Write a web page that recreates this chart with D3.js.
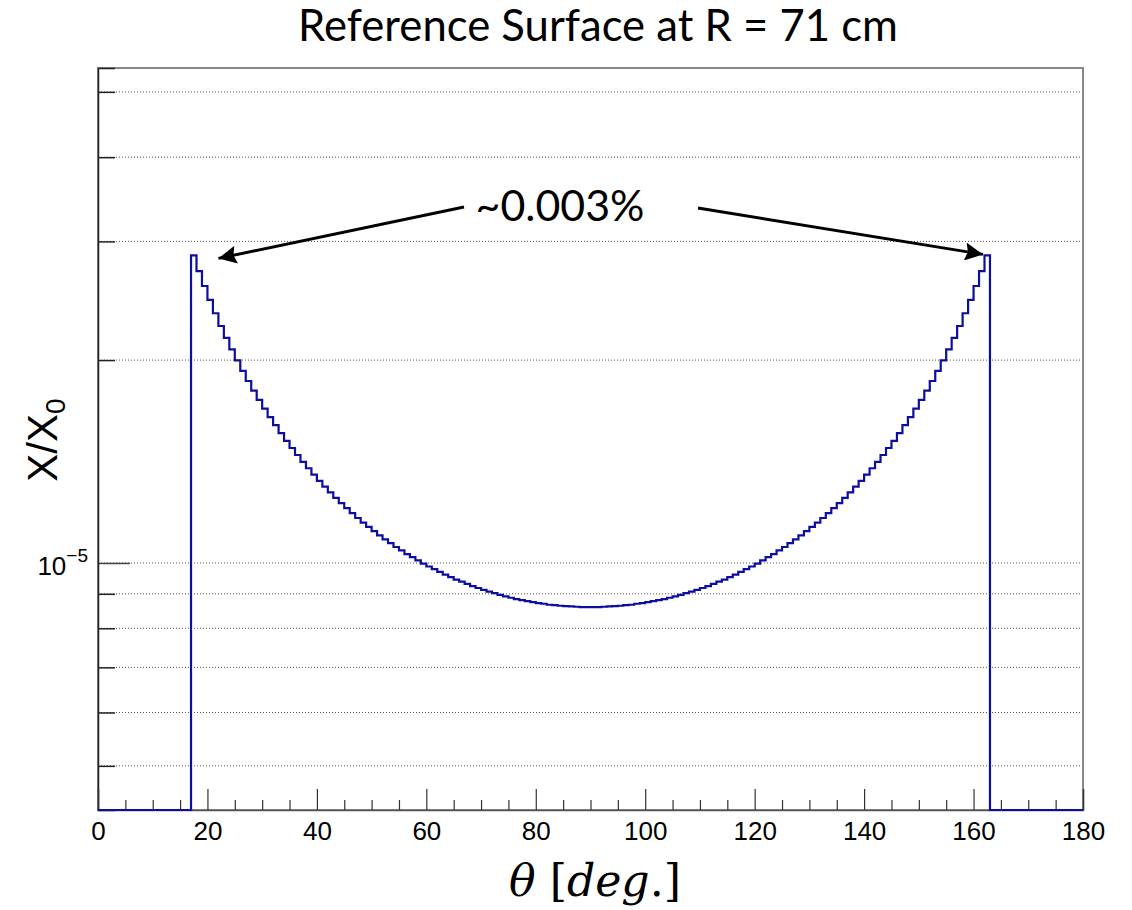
<!DOCTYPE html>
<html>
<head>
<meta charset="utf-8">
<script src="https://cdn.jsdelivr.net/npm/d3@7"></script>
<style>
  body { margin: 0; background: #fff; }
  svg { display: block; }
</style>
</head>
<body>
<div id="chart"></div>
<script>
// X/X0 per 1-degree theta bin (0..180), in units of 1e-6; 0 = empty bin
const xOverX0E6 = [
  0, 0, 0, 0, 0, 0, 0, 0, 0, 0, 0, 0, 0, 0, 0, 0, 0,
  28.60, 27.10, 25.76, 24.56, 23.47, 22.47, 21.57, 20.74, 19.98, 19.27,
  18.62, 18.02, 17.46, 16.94, 16.46, 16.01, 15.58, 15.18, 14.81, 14.46,
  14.13, 13.82, 13.52, 13.24, 12.98, 12.73, 12.49, 12.27, 12.06, 11.86,
  11.66, 11.48, 11.31, 11.15, 10.99, 10.84, 10.70, 10.56, 10.44, 10.31,
  10.20, 10.09, 9.98, 9.88, 9.79, 9.70, 9.61, 9.53, 9.45, 9.38,
  9.31, 9.24, 9.18, 9.12, 9.07, 9.02, 8.97, 8.92, 8.88, 8.84,
  8.81, 8.78, 8.75, 8.72, 8.70, 8.67, 8.66, 8.64, 8.63, 8.62,
  8.61, 8.60, 8.60,
  8.60, 8.60, 8.61,
  8.62, 8.63, 8.64, 8.66, 8.67, 8.70, 8.72, 8.75, 8.78, 8.81,
  8.84, 8.88, 8.92, 8.97, 9.02, 9.07, 9.12, 9.18, 9.24, 9.31,
  9.38, 9.45, 9.53, 9.61, 9.70, 9.79, 9.88, 9.98, 10.09, 10.20,
  10.31, 10.44, 10.56, 10.70, 10.84, 10.99, 11.15, 11.31, 11.48, 11.66,
  11.86, 12.06, 12.27, 12.49, 12.73, 12.98, 13.24, 13.52, 13.82, 14.13,
  14.46, 14.81, 15.18, 15.58, 16.01, 16.46, 16.94, 17.46, 18.02, 18.62,
  19.27, 19.98, 20.74, 21.57, 22.47, 23.47, 24.56, 25.76, 27.10, 28.60,
  0, 0, 0, 0, 0, 0, 0, 0, 0, 0, 0, 0, 0, 0, 0, 0, 0
];

const xDomain = [0, 180];
const yDomain = [4.30e-6, 5.425e-5];
const xMajorTicks = [0, 20, 40, 60, 80, 100, 120, 140, 160, 180];
const xMinorTicks = d3.range(0, 181, 5).filter(d => d % 20 !== 0);
const yMajorTicks = [1e-5];
const yMinorTicks = [5e-6, 6e-6, 7e-6, 8e-6, 9e-6, 2e-5, 3e-5, 4e-5, 5e-5];

const titleText = "Reference Surface at R = 71 cm";
const noteText = "~0.003%";

const width = 1132, height = 910;
const margin = { top: 68, right: 49, bottom: 100, left: 98 };
const innerWidth = width - margin.left - margin.right;
const innerHeight = height - margin.top - margin.bottom;

const svg = d3.select("#chart").append("svg")
  .attr("width", width)
  .attr("height", height);

svg.append("rect").attr("width", width).attr("height", height).attr("fill", "#fff");

const xScale = d3.scaleLinear().domain(xDomain).range([0, innerWidth]);
const yScale = d3.scaleLog().domain(yDomain).range([innerHeight, 0]);

const plot = svg.append("g").attr("transform", `translate(${margin.left},${margin.top})`);

// dotted gridlines
plot.append("g")
  .selectAll("line")
  .data(yMajorTicks.concat(yMinorTicks))
  .join("line")
  .attr("x1", 0).attr("x2", innerWidth)
  .attr("y1", d => yScale(d)).attr("y2", d => yScale(d))
  .attr("stroke", "#555")
  .attr("stroke-width", 1)
  .attr("stroke-dasharray", "1,2");

// frame
plot.append("rect")
  .attr("width", innerWidth).attr("height", innerHeight)
  .attr("fill", "none").attr("stroke", "#888").attr("stroke-width", 2);

// y ticks point into the frame (ROOT style)
const yMajorAxis = d3.axisRight(yScale).tickValues(yMajorTicks).tickSize(32).tickFormat("");
const yMinorAxis = d3.axisRight(yScale).tickValues(yMinorTicks).tickSize(17).tickFormat("");
plot.append("g").call(yMajorAxis).call(g => g.select(".domain").remove())
  .selectAll(".tick line").attr("stroke", "#444").attr("stroke-width", 1.5);
plot.append("g").call(yMinorAxis).call(g => g.select(".domain").attr("stroke", "#222").attr("stroke-width", 1.5))
  .selectAll(".tick line").attr("stroke", "#222").attr("stroke-width", 1.5);

// x ticks point up into the frame
const xMajorAxis = d3.axisTop(xScale).tickValues(xMajorTicks).tickSize(21).tickFormat("");
const xMinorAxis = d3.axisTop(xScale).tickValues(xMinorTicks).tickSize(10).tickFormat("");
plot.append("g").attr("transform", `translate(0,${innerHeight})`).call(xMajorAxis)
  .call(g => g.select(".domain").attr("stroke", "#555").attr("stroke-width", 1.5))
  .selectAll(".tick line").attr("stroke", "#333").attr("stroke-width", 1.2);
plot.append("g").attr("transform", `translate(0,${innerHeight})`).call(xMinorAxis)
  .call(g => g.select(".domain").remove())
  .selectAll(".tick line").attr("stroke", "#333").attr("stroke-width", 1.2);

// x tick labels
const xLabelAxis = d3.axisBottom(xScale).tickValues(xMajorTicks).tickSize(0).tickPadding(12);
plot.append("g").attr("transform", `translate(0,${innerHeight})`).call(xLabelAxis)
  .call(g => g.select(".domain").remove())
  .selectAll(".tick text")
  .attr("font-family", "'Liberation Sans', Arial, sans-serif")
  .attr("font-size", 26)
  .attr("fill", "#000");

// y tick label 10^-5
yMajorTicks.forEach(v => {
  const t = plot.append("text")
    .attr("x", -10).attr("y", yScale(v) + 12)
    .attr("text-anchor", "end")
    .attr("font-family", "'Liberation Sans', Arial, sans-serif")
    .attr("font-size", 26);
  t.append("tspan").text("10");
  t.append("tspan").attr("dy", -13).attr("font-size", 19).text("\u22125");
});

// histogram steps
const yBottom = innerHeight;
const pts = [];
xOverX0E6.forEach((v, i) => {
  const y = v > 0 ? yScale(v * 1e-6) : yBottom;
  pts.push([xScale(i), y], [xScale(i + 1), y]);
});
plot.append("path")
  .attr("d", d3.line()(pts))
  .attr("fill", "none")
  .attr("stroke", "#0d0da0")
  .attr("stroke-width", 2.2);

// fit a text element to a target width
function fitWidth(sel, target) {
  const w = sel.node().getComputedTextLength();
  const fs = parseFloat(sel.attr("font-size"));
  sel.attr("font-size", fs * target / w);
}

// title
const title = svg.append("text")
  .attr("x", 598).attr("y", 41)
  .attr("text-anchor", "middle")
  .attr("font-family", "Lato, 'Open Sans', sans-serif")
  .attr("font-size", 36)
  .attr("fill", "#000")
  .text(titleText);
fitWidth(title, 600);

// annotation with arrows
const defs = svg.append("defs");
defs.append("marker")
  .attr("id", "arrowhead")
  .attr("viewBox", "0 0 10 10")
  .attr("refX", 10).attr("refY", 5)
  .attr("markerWidth", 6.5).attr("markerHeight", 6)
  .attr("markerUnits", "strokeWidth")
  .attr("orient", "auto")
  .append("path")
  .attr("d", "M0,0 L10,5 L0,10 L1.5,5 Z")
  .attr("fill", "#000");

const note = svg.append("text")
  .attr("x", 560).attr("y", 221)
  .attr("text-anchor", "middle")
  .attr("font-family", "Lato, 'Open Sans', sans-serif")
  .attr("font-size", 40)
  .attr("fill", "#000")
  .text(noteText);
fitWidth(note, 169);

// arrows point at the two peak bins
const peakLeft = 17, peakRight = 162;
const peakY = margin.top + yScale(xOverX0E6[peakLeft] * 1e-6);
svg.append("line")
  .attr("x1", 464).attr("y1", 207)
  .attr("x2", margin.left + xScale(peakLeft + 1) + 22).attr("y2", peakY + 3)
  .attr("stroke", "#000").attr("stroke-width", 3)
  .attr("marker-end", "url(#arrowhead)");
svg.append("line")
  .attr("x1", 698).attr("y1", 208)
  .attr("x2", margin.left + xScale(peakRight) - 1.5).attr("y2", peakY - 1)
  .attr("stroke", "#000").attr("stroke-width", 3)
  .attr("marker-end", "url(#arrowhead)");

// y axis label
const yLab = svg.append("text")
  .attr("transform", "translate(57,440) rotate(-90)")
  .attr("text-anchor", "middle")
  .attr("font-family", "'Liberation Sans', Arial, sans-serif")
  .attr("font-size", 42)
  .attr("fill", "#000");
yLab.append("tspan").text("X/X");
yLab.append("tspan").attr("dy", 8).attr("font-size", 28).text("0");

// x axis label (math style)
const xLab = svg.append("text")
  .attr("x", 595).attr("y", 896)
  .attr("text-anchor", "middle")
  .attr("font-family", "'DejaVu Serif', 'Liberation Serif', serif")
  .attr("font-size", 40)
  .attr("fill", "#000");
xLab.append("tspan").attr("font-style", "italic").text("\u03b8");
xLab.append("tspan").text(" [");
xLab.append("tspan").attr("font-style", "italic").text("deg");
xLab.append("tspan").text(".]");
fitWidth(xLab, 172);
</script>
</body>
</html>
